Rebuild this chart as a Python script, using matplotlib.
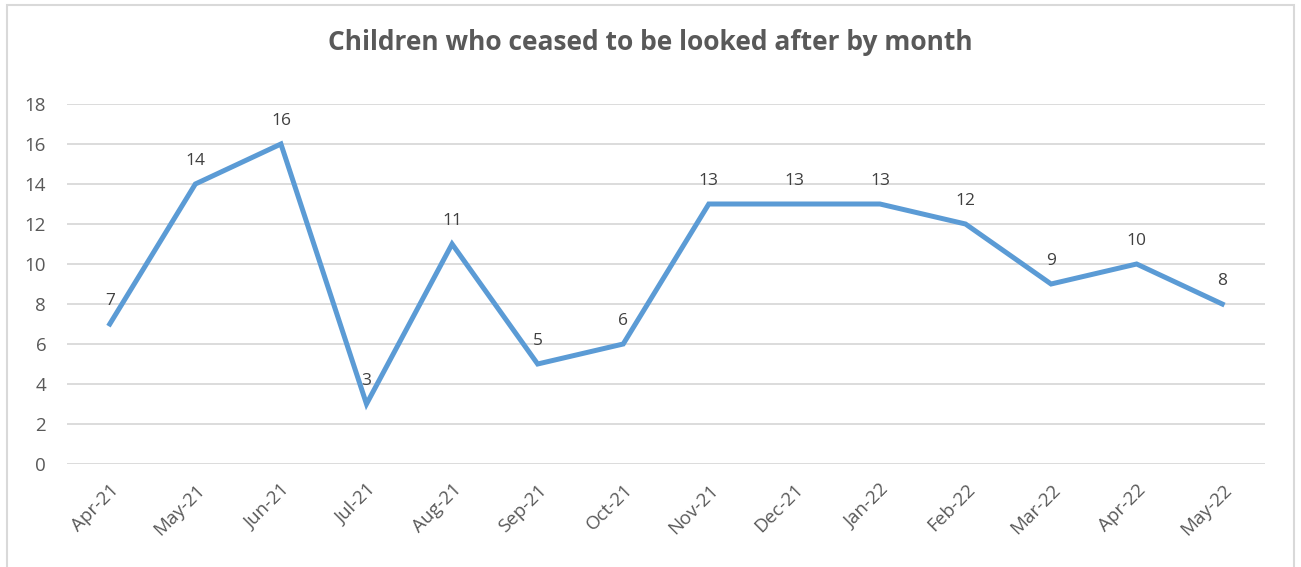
import matplotlib.pyplot as plt
from matplotlib.patches import Rectangle

months = ["Apr-21", "May-21", "Jun-21", "Jul-21", "Aug-21", "Sep-21", "Oct-21",
          "Nov-21", "Dec-21", "Jan-22", "Feb-22", "Mar-22", "Apr-22", "May-22"]
ceased = [7, 14, 16, 3, 11, 5, 6, 13, 13, 13, 12, 9, 10, 8]
y_ticks = [0, 2, 4, 6, 8, 10, 12, 14, 16, 18]

plt.rcParams['font.family'] = ['Open Sans', 'DejaVu Sans']

fig = plt.figure(figsize=(13.01, 5.67), dpi=100)
fig.patch.set_facecolor("white")

# outer chart border (bottom is cut off in the original)
fig.patches.append(Rectangle((7 / 1301, -0.05), 1287 / 1301, 1.05 - 5 / 567,
                             transform=fig.transFigure, fill=False,
                             edgecolor="#D9D9D9", linewidth=1.5))

ax = fig.add_axes([67 / 1301, 1 - 464 / 567, 1198 / 1301, 360 / 567])
x = list(range(len(months)))
ax.plot(x, ceased, color="#5B9BD5", linewidth=3.6, solid_joinstyle="miter", zorder=3)

for xi, v in zip(x, ceased):
    ax.annotate(str(v), (xi, v), xytext=(0, 11), textcoords="offset points",
                ha="center", va="bottom", fontsize=12.5, color="#404040", zorder=4)

ax.set_xlim(-0.5, len(months) - 0.5)
ax.set_ylim(0, 18)
ax.set_yticks(y_ticks)
ax.set_xticks(x)
ax.set_xticklabels(months, rotation=45, ha="right", rotation_mode="anchor")
ax.tick_params(axis="both", length=0, labelsize=13.5, labelcolor="#595959")
ax.tick_params(axis="y", pad=15)
ax.tick_params(axis="x", pad=12)
ax.grid(axis="y", color="#D9D9D9", linewidth=1.3)
ax.set_axisbelow(True)
for s in ax.spines.values():
    s.set_visible(False)

fig.text(0.5, 1 - 42 / 567, "Children who ceased to be looked after by month",
         ha="center", va="center", fontsize=19, fontweight="bold", color="#595959")

fig.savefig("out.png", dpi=100)
